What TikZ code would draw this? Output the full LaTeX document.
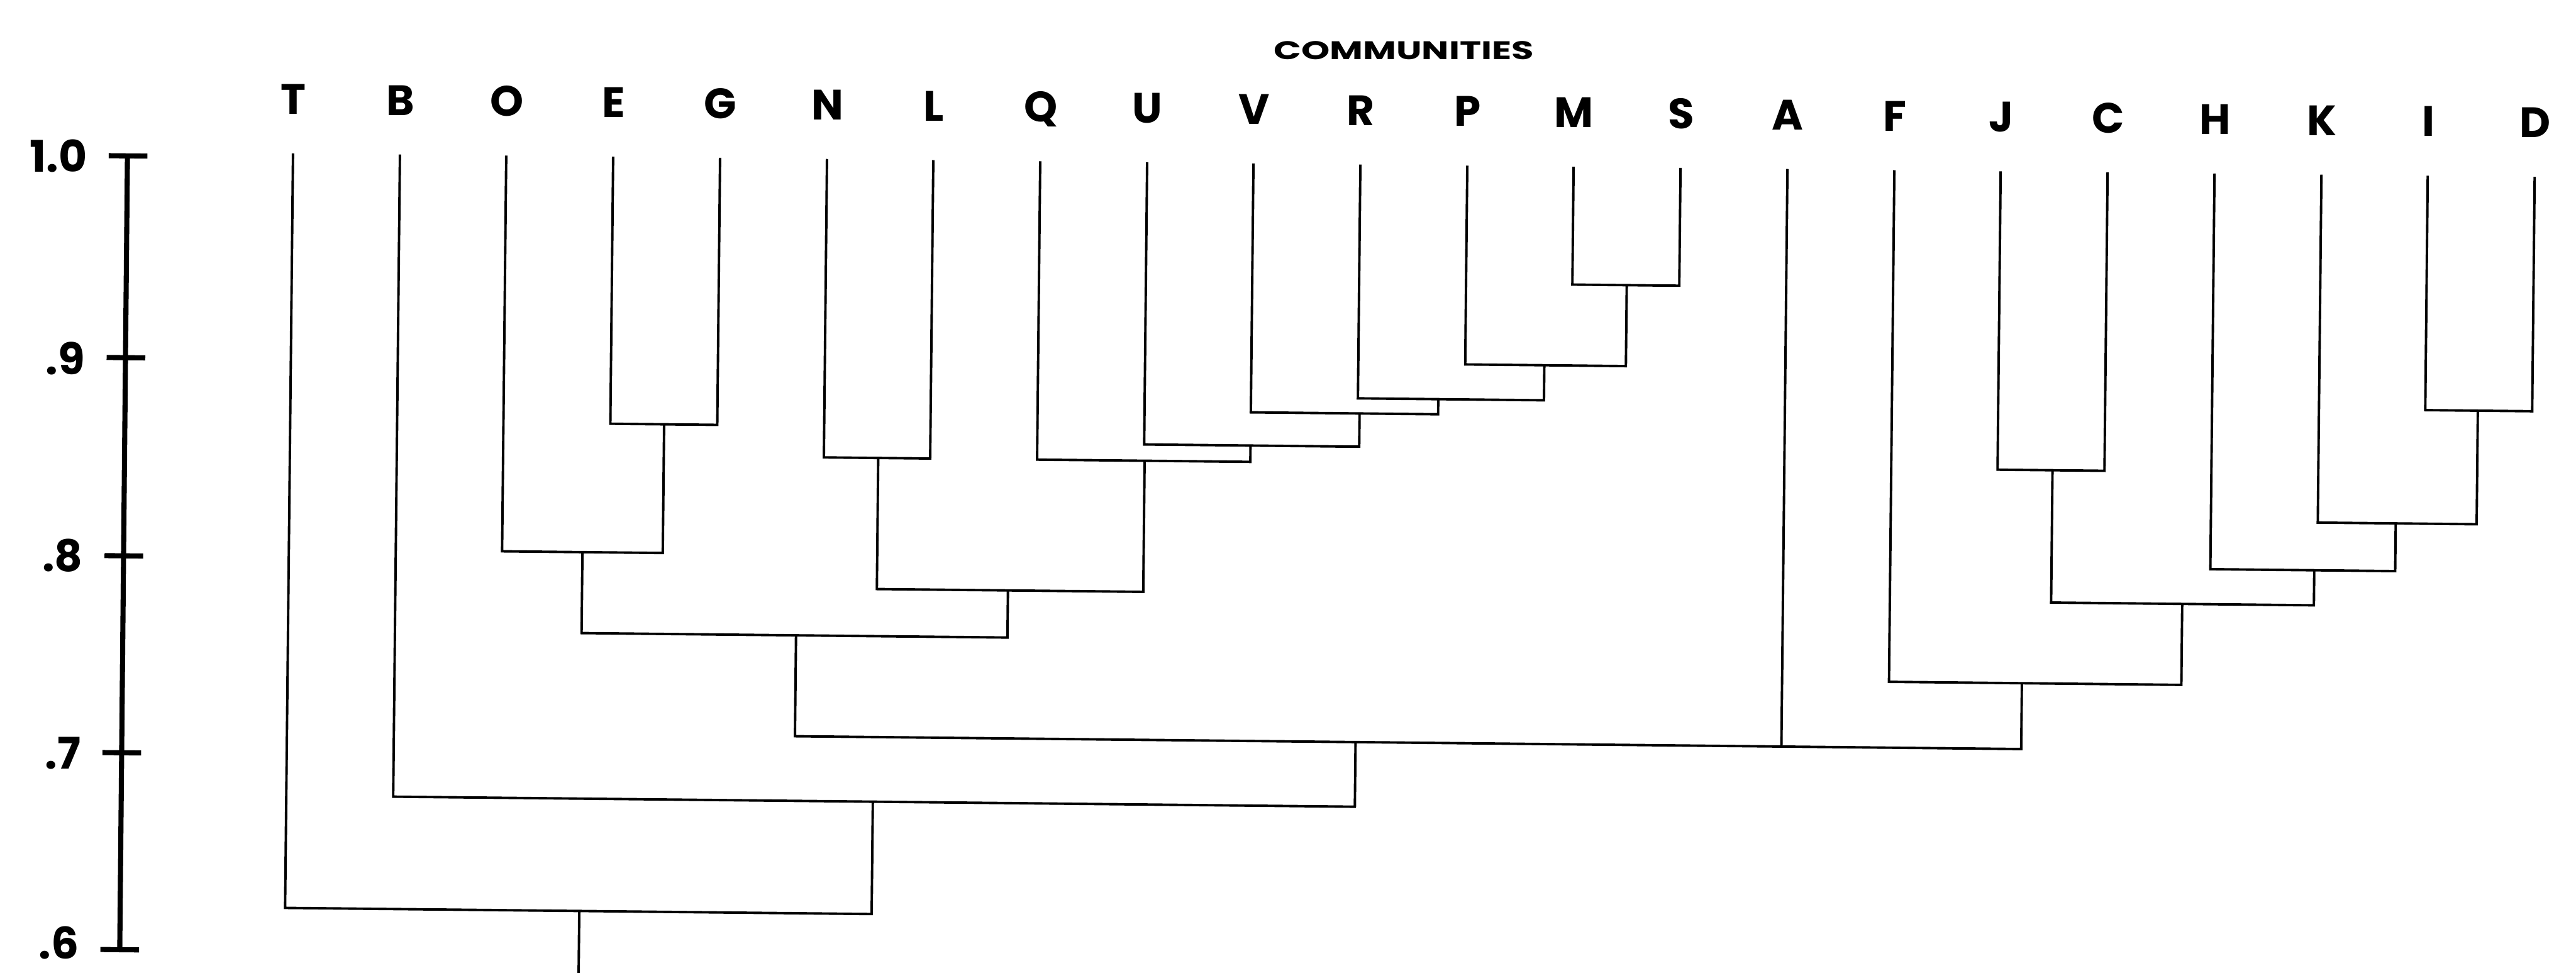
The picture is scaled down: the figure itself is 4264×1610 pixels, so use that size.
\documentclass[tikz,border=0pt]{standalone}
\usepackage{fontspec}
\usepackage{graphicx}
\setmainfont{Poppins}
\begin{document}
\begin{tikzpicture}[x=0.01cm,y=-0.01cm]
\tikzset{
  link/.style={line width=1.15pt, line join=miter},
  axisline/.style={line width=2.4pt},
  leaflabel/.style={font=\fontsize{20}{20}\selectfont\bfseries, anchor=base, inner sep=0pt},
  ticklabel/.style={font=\fontsize{20.5}{20.5}\selectfont\bfseries, anchor=base east, inner sep=0pt},
  titlelabel/.style={anchor=base, inner sep=0pt}
}
\useasboundingbox (0,0) rectangle (4264,1610);
\fill[white] (0,0) rectangle (4264,1610);
\begin{scope}[rotate around={-0.6:(210,255)}]
  % title
  \node[titlelabel] (title) at (2322,76) {\resizebox{4.3cm}{0.30cm}{\fontsize{14}{14}\selectfont\bfseries COMMUNITIES}};
  % axis
  \coordinate (ax1) at (211,258);
  \coordinate (ax6) at (212,1572);
  \draw[axisline] (ax1) -- (ax6);
  \foreach \yy/\by/\lab in {258/285/1.0, 592/621/.9, 920/947/.8, 1246/1273/.7, 1572/1588/.6}{
    \draw[axisline] (180,\yy) -- (244,\yy);
    \node[ticklabel] at (145,\by) {\lab};
  }
  % leaves
  \foreach \n/\xx in {T/485,B/662,O/838,E/1015,G/1192,N/1369,L/1545,Q/1722,U/1899,V/2075,R/2252,P/2429,M/2605,S/2782,A/2959,F/3136,J/3312,C/3489,H/3666,K/3843,I/4019,D/4196}{
    \node[leaflabel] (lab\n) at (\xx,186) {\n};
    \coordinate (\n) at (\xx,251);
  }
  % internal nodes
  \coordinate (eg) at (1104,693);
  \coordinate (oeg) at (971,906);
  \coordinate (nl) at (1459,745);
  \coordinate (ms) at (2695,446);
  \coordinate (pms) at (2560,580);
  \coordinate (rpms) at (2385,638);
  \coordinate (vr) at (2255,663);
  \coordinate (uv) at (2075,718);
  \coordinate (qu) at (1900,745);
  \coordinate (nlq) at (1676,962);
  \coordinate (lft) at (1326,1040);
  \coordinate (jc) at (3403,745);
  \coordinate (id) at (4106,639);
  \coordinate (kid) at (3972,827);
  \coordinate (hkid) at (3838,906);
  \coordinate (jchk) at (3620,964);
  \coordinate (fr) at (3356,1098);
  \coordinate (big) at (2254,1207);
  \coordinate (bb) at (1456,1314);
  \coordinate (root) at (972,1500);
  \coordinate (rootend) at (972,1660);
  % merges
  \draw[link] (E) |- (eg) -| (G);
  \draw[link] (O) |- (oeg) -| (eg);
  \draw[link] (N) |- (nl) -| (L);
  \draw[link] (M) |- (ms) -| (S);
  \draw[link] (P) |- (pms) -| (ms);
  \draw[link] (R) |- (rpms) -| (pms);
  \draw[link] (V) |- (vr) -| (rpms);
  \draw[link] (U) |- (uv) -| (vr);
  \draw[link] (Q) |- (qu) -| (uv);
  \draw[link] (nl) |- (nlq) -| (qu);
  \draw[link] (oeg) |- (lft) -| (nlq);
  \draw[link] (J) |- (jc) -| (C);
  \draw[link] (I) |- (id) -| (D);
  \draw[link] (K) |- (kid) -| (id);
  \draw[link] (H) |- (hkid) -| (kid);
  \draw[link] (jc) |- (jchk) -| (hkid);
  \draw[link] (F) |- (fr) -| (jchk);
  \draw[link] (lft) |- (big) -| (fr);
  \draw[link] (A) -- (A |- big);
  \draw[link] (B) |- (bb) -| (big);
  \draw[link] (T) |- (root) -| (bb);
  \draw[link] (root) -- (rootend);
\end{scope}
\end{tikzpicture}
\end{document}
